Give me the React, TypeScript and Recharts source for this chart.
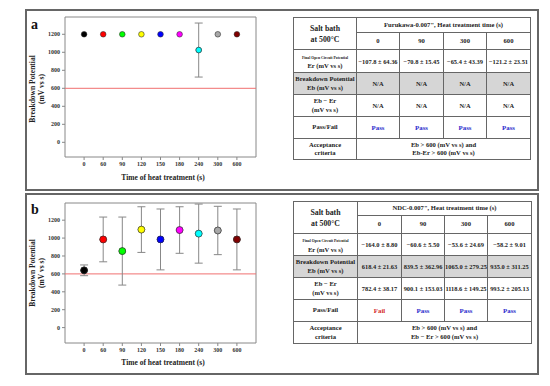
import {
  ScatterChart,
  Scatter,
  XAxis,
  YAxis,
  ErrorBar,
  ReferenceLine,
  ReferenceArea,
} from "recharts";

const timeLabels = ["0", "60", "90", "120", "150", "180", "240", "300", "600"];
const pointColors = ["#000000", "#ff0000", "#00ff00", "#ffff00", "#0000ff", "#ff00ff", "#00ffff", "#a8a8a8", "#800000"];
const furukawaEb = [1200, 1200, 1200, 1200, 1200, 1200, 1025, 1200, 1200];
const furukawaErr = [0, 0, 0, 0, 0, 0, 300, 0, 0];
const ndcEb = [640, 985, 855, 1095, 985, 1090, 1050, 1085, 985];
const ndcErr = [60, 250, 380, 255, 340, 260, 330, 270, 340];
const criterion = 600;
const yTicks = [0, 200, 400, 600, 800, 1000, 1200];

const tableTimes = ["0", "90", "300", "600"];
const furukawaEr = ["\u2212107.8 \u00b1 64.36", "\u221270.8 \u00b1 15.45", "\u221265.4 \u00b1 43.39", "\u2212121.2 \u00b1 23.51"];
const furukawaEbText = ["N/A", "N/A", "N/A", "N/A"];
const furukawaDiff = ["N/A", "N/A", "N/A", "N/A"];
const furukawaPass = ["Pass", "Pass", "Pass", "Pass"];
const ndcEr = ["\u2212164.0 \u00b1 8.80", "\u221260.6 \u00b1 5.50", "\u221253.6 \u00b1 24.69", "\u221258.2 \u00b1 9.01"];
const ndcEbText = ["618.4 \u00b1 21.63", "839.5 \u00b1 362.96", "1065.0 \u00b1 279.25", "935.0 \u00b1 311.25"];
const ndcDiff = ["782.4 \u00b1 38.17", "900.1 \u00b1 153.03", "1118.6 \u00b1 149.25", "993.2 \u00b1 205.13"];
const ndcPass = ["Fail", "Pass", "Pass", "Pass"];

const serif = "'Liberation Serif', 'DejaVu Serif', serif";
const tickStyle = { fontSize: 6, fontWeight: "bold", fill: "#333", fontFamily: serif };

function Dot(props: any) {
  const { cx, cy, payload, r } = props;
  if (cx == null || cy == null) return null;
  return <circle cx={cx} cy={cy} r={r} fill={payload.color} stroke="#333" strokeWidth={0.6} />;
}

function PlotPanel({ values, errs, domain, plotTop, plotBottom, r }: any) {
  const data = values.map((v: number, i: number) => ({ x: i, y: v, err: errs[i], color: pointColors[i] }));
  const withErr = data.filter((d: any) => d.err > 0);
  const mTop = 10;
  const height = plotBottom - plotTop + mTop + 33;
  return (
    <div style={{ position: "absolute", left: 0, top: plotTop - mTop }}>
      <ScatterChart width={270} height={height} margin={{ top: mTop, right: 14, bottom: 13, left: 25 }}>
        <XAxis
          type="number"
          dataKey="x"
          domain={[-1, 9]}
          ticks={[0, 1, 2, 3, 4, 5, 6, 7, 8]}
          tickFormatter={(i: number) => timeLabels[i]}
          interval={0}
          axisLine={false}
          tickLine={{ stroke: "#888" }}
          tickSize={3}
          tick={tickStyle}
          height={20}
          allowDataOverflow
        />
        <YAxis
          type="number"
          dataKey="y"
          domain={domain}
          ticks={yTicks}
          interval={0}
          axisLine={false}
          tickLine={{ stroke: "#888" }}
          tickSize={3}
          tick={tickStyle}
          width={40}
          allowDataOverflow
        />
        <ReferenceArea x1={-1} x2={9} y1={domain[0]} y2={domain[1]} fill="none" stroke="#888" strokeWidth={1} fillOpacity={0} />
        <ReferenceLine y={criterion} stroke="#f07070" strokeWidth={1} />
        <Scatter data={withErr} shape={(p: any) => <Dot {...p} r={r} />} isAnimationActive={false}>
          <ErrorBar dataKey="err" direction="y" width={4} stroke="#888" strokeWidth={1} />
        </Scatter>
        <Scatter data={data} shape={(p: any) => <Dot {...p} r={r} />} isAnimationActive={false} />
      </ScatterChart>
    </div>
  );
}

function AxisTitles({ yCenter, xLabelY }: any) {
  return (
    <>
      <div
        style={{
          position: "absolute",
          left: 38 - 50,
          top: yCenter - 9,
          width: 100,
          height: 18,
          transform: "rotate(-90deg)",
          textAlign: "center",
          fontSize: 7.5,
          lineHeight: "8.5px",
          fontWeight: "bold",
          color: "#222",
        }}
      >
        Breakdown Potential
        <br />
        (mV vs s)
      </div>
      <div
        style={{
          position: "absolute",
          left: 103,
          top: xLabelY - 5,
          width: 120,
          textAlign: "center",
          fontSize: 7.5,
          lineHeight: "10px",
          fontWeight: "bold",
          color: "#222",
        }}
      >
        Time of heat treatment (s)
      </div>
    </>
  );
}

function ResultTable({ left, top, cols, rows, title, er, eb, diff, pass, accept2 }: any) {
  const border = "1px solid #666";
  const cell: any = { border, padding: 0, textAlign: "center", verticalAlign: "middle", whiteSpace: "nowrap", fontWeight: "bold", fontSize: 6.4, color: "#222", overflow: "visible" };
  const head: any = { ...cell, fontSize: 6.6, lineHeight: "8.5px" };
  const gray = "#d6d6d6";
  return (
    <table
      style={{
        position: "absolute",
        left,
        top,
        borderCollapse: "collapse",
        tableLayout: "fixed",
        width: cols.reduce((a: number, b: number) => a + b, 0),
        fontFamily: serif,
        border: "1px solid #777",
      }}
    >
      <colgroup>
        {cols.map((w: number, i: number) => (
          <col key={i} style={{ width: w }} />
        ))}
      </colgroup>
      <tbody>
        <tr style={{ height: rows[0] }}>
          <td rowSpan={2} style={{ ...head, fontSize: 7.8, lineHeight: "11px" }}>
            Salt bath
            <br />
            at 500°C
          </td>
          <td colSpan={4} style={head}>{title}</td>
        </tr>
        <tr style={{ height: rows[1] }}>
          {tableTimes.map((t) => (
            <td key={t} style={head}>{t}</td>
          ))}
        </tr>
        <tr style={{ height: rows[2] }}>
          <td style={{ ...head, lineHeight: "7.5px" }}>
            <span style={{ fontSize: 3.8 }}>Final Open Circuit Potential</span>
            <br />
            Er (mV vs s)
          </td>
          {er.map((v: string, i: number) => (
            <td key={i} style={cell}>{v}</td>
          ))}
        </tr>
        <tr style={{ height: rows[3], background: gray }}>
          <td style={head}>
            Breakdown Potential
            <br />
            Eb (mV vs s)
          </td>
          {eb.map((v: string, i: number) => (
            <td key={i} style={cell}>{v}</td>
          ))}
        </tr>
        <tr style={{ height: rows[4] }}>
          <td style={head}>
            Eb − Er
            <br />
            (mV vs s)
          </td>
          {diff.map((v: string, i: number) => (
            <td key={i} style={cell}>{v}</td>
          ))}
        </tr>
        <tr style={{ height: rows[5] }}>
          <td style={head}>Pass/Fail</td>
          {pass.map((v: string, i: number) => (
            <td key={i} style={{ ...cell, fontSize: 6.8, color: v === "Pass" ? "#2a2acc" : "#d42a2a" }}>{v}</td>
          ))}
        </tr>
        <tr style={{ height: rows[6] }}>
          <td style={head}>
            Acceptance
            <br />
            criteria
          </td>
          <td colSpan={4} style={head}>
            Eb &gt; 600 (mV vs s) and
            <br />
            {accept2}
          </td>
        </tr>
      </tbody>
    </table>
  );
}

export default function App() {
  const panel: any = { position: "absolute", left: 25, width: 514, border: "2px solid #666", boxSizing: "border-box" };
  const letter: any = { position: "absolute", left: 31, fontSize: 14, fontWeight: "bold", color: "#111", lineHeight: "14px" };
  return (
    <div style={{ position: "absolute", left: 0, top: 0, width: 550, height: 386, background: "#fff", fontFamily: serif, overflow: "hidden" }}>
      <div style={{ ...panel, top: 9, height: 182 }} />
      <div style={{ ...panel, top: 193, height: 182 }} />
      <div style={{ ...letter, top: 18 }}>a</div>
      <div style={{ ...letter, top: 203 }}>b</div>

      <PlotPanel values={furukawaEb} errs={furukawaErr} domain={[-163, 1392]} plotTop={17} plotBottom={157} r={2.8} />
      <AxisTitles yCenter={89} xLabelY={178} />
      <PlotPanel values={ndcEb} errs={ndcErr} domain={[-172, 1392]} plotTop={203} plotBottom={343} r={3.4} />
      <AxisTitles yCenter={273} xLabelY={363} />

      <ResultTable
        left={293}
        top={17}
        cols={[63, 43, 44, 43, 44]}
        rows={[15, 17, 23, 22, 22, 22, 21]}
        title={"Furukawa-0.007\", Heat treatment time (s)"}
        er={furukawaEr}
        eb={furukawaEbText}
        diff={furukawaDiff}
        pass={furukawaPass}
        accept2="Eb-Er > 600 (mV vs s)"
      />
      <ResultTable
        left={293}
        top={201}
        cols={[64, 44, 43, 43, 44]}
        rows={[14, 18, 22, 22, 22, 22, 22]}
        title={"NDC-0.007\", Heat treatment time (s)"}
        er={ndcEr}
        eb={ndcEbText}
        diff={ndcDiff}
        pass={ndcPass}
        accept2="Eb − Er > 600 (mV vs s)"
      />
    </div>
  );
}
